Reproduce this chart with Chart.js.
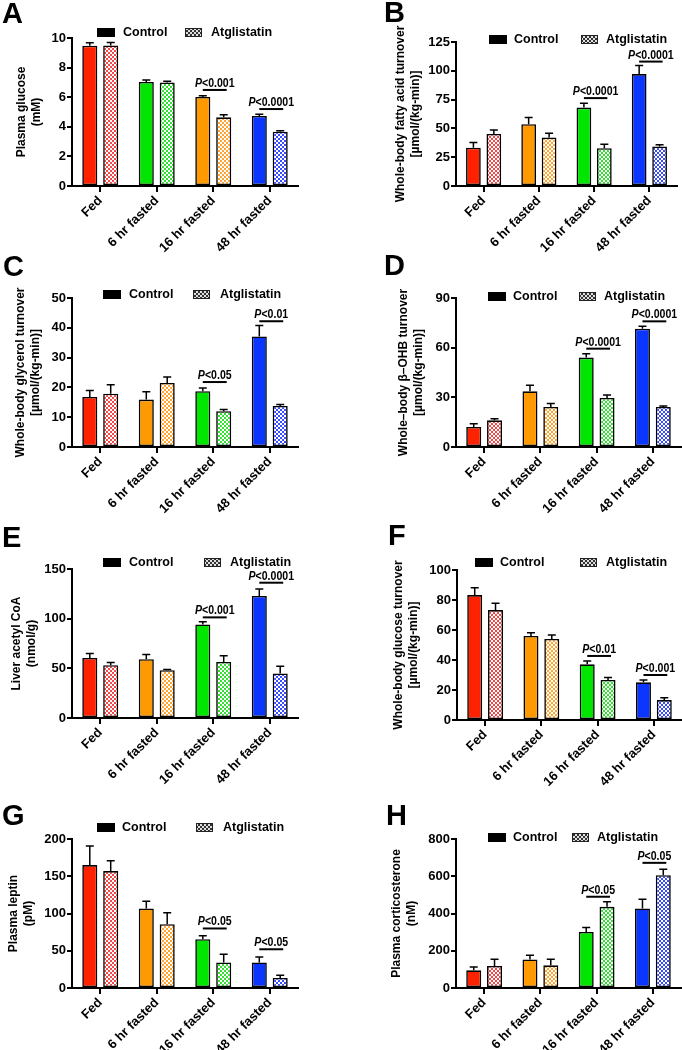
<!DOCTYPE html>
<html><head><meta charset="utf-8">
<script src="https://cdn.jsdelivr.net/npm/chart.js@4.4.1/dist/chart.umd.min.js"></script>
<style>
html,body{margin:0;padding:0;background:#fff;}
#wrap{position:relative;width:682px;height:1050px;overflow:hidden;background:#fff;}
#wrap canvas{position:absolute;}
</style></head><body><div id="wrap"></div>
<script>
// ---------- DATA ----------
const categories = ['Fed', '6 hr fasted', '16 hr fasted', '48 hr fasted'];
const seriesNames = ['Control', 'Atglistatin'];

// A: Plasma glucose (mM)
const glucoseControl = [9.48, 7.03, 6.02, 4.73];
const glucoseControlSem = [0.2, 0.13, 0.08, 0.12];
const glucoseAtg = [9.5, 7.0, 4.64, 3.67];
const glucoseAtgSem = [0.2, 0.07, 0.18, 0.07];
const glucoseTicks = [0, 2, 4, 6, 8, 10];
const glucoseStats = [{ group: 2, text: '<0.001', y: 6.49 }, { group: 3, text: '<0.0001', y: 5.2 }];

// B: Whole-body fatty acid turnover
const faControl = [33.3, 53.7, 68.1, 97.2];
const faControlSem = [4.4, 5.7, 3.8, 7.5];
const faAtg = [45.2, 42.0, 32.8, 34.2];
const faAtgSem = [3.5, 3.8, 3.5, 1.5];
const faTicks = [0, 25, 50, 75, 100, 125];
const faStats = [{ group: 2, text: '<0.0001', y: 76.3 }, { group: 3, text: '<0.0001', y: 108 }];

// C: Whole-body glycerol turnover
const glyControl = [16.8, 15.9, 18.7, 37.1];
const glyControlSem = [2.2, 2.6, 1.1, 3.7];
const glyAtg = [17.9, 21.5, 12.0, 13.8];
const glyAtgSem = [3.0, 2.0, 0.6, 0.5];
const glyTicks = [0, 10, 20, 30, 40, 50];
const glyStats = [{ group: 2, text: '<0.05', y: 21.8 }, { group: 3, text: '<0.01', y: 42.2 }];

// D: Whole-body beta-OHB turnover
const bohbControl = [12.1, 33.6, 54.0, 71.5];
const bohbControlSem = [2.0, 3.7, 2.4, 1.4];
const bohbAtg = [16.1, 24.2, 29.6, 24.2];
const bohbAtgSem = [1.0, 2.0, 1.8, 0.6];
const bohbTicks = [0, 30, 60, 90];
const bohbStats = [{ group: 2, text: '<0.0001', y: 59.4 }, { group: 3, text: '<0.0001', y: 75.9 }];

// E: Liver acetyl CoA
const acoaControl = [60.5, 59.2, 94.2, 122.8];
const acoaControlSem = [4.5, 4.8, 2.7, 7.1];
const acoaAtg = [53.2, 48.1, 56.5, 44.8];
const acoaAtgSem = [2.7, 0.7, 6.1, 7.4];
const acoaTicks = [0, 50, 100, 150];
const acoaStats = [{ group: 2, text: '<0.001', y: 101.3 }, { group: 3, text: '<0.0001', y: 136.2 }];

// F: Whole-body glucose turnover
const gtControl = [83.3, 56.0, 37.1, 25.1];
const gtControlSem = [4.9, 2.2, 2.2, 1.6];
const gtAtg = [73.3, 54.0, 26.7, 13.3];
const gtAtgSem = [4.5, 2.7, 1.7, 1.6];
const gtTicks = [0, 20, 40, 60, 80, 100];
const gtStats = [{ group: 2, text: '<0.01', y: 42.7 }, { group: 3, text: '<0.001', y: 30 }];

// G: Plasma leptin
const leptinControl = [165, 106.8, 65.5, 34.2];
const leptinControlSem = [25.6, 9.8, 4.5, 7.5];
const leptinAtg = [157, 85.7, 34.2, 13.5];
const leptinAtgSem = [13.8, 15.2, 11.1, 3.6];
const leptinTicks = [0, 50, 100, 150, 200];
const leptinStats = [{ group: 2, text: '<0.05', y: 79.9 }, { group: 3, text: '<0.05', y: 52 }];

// H: Plasma corticosterone
const cortControl = [95, 153, 301, 427];
const cortControlSem = [18, 23, 24, 50];
const cortAtg = [118, 122, 436, 606];
const cortAtgSem = [36, 32, 27, 32];
const cortTicks = [0, 200, 400, 600, 800];
const cortStats = [{ group: 2, text: '<0.05', y: 490 }, { group: 3, text: '<0.05', y: 672 }];

// ---------- STYLE ----------
const FONT = '"Liberation Sans", Arial, Helvetica, sans-serif';
const RED = '#ff2200', ORANGE = '#ff9900', GREEN = '#00e600', BLUE = '#0a36ff';
const LIGHT = { [RED]: '#f24848', [ORANGE]: '#ffa533', [GREEN]: '#33e033', [BLUE]: '#3a4cff' };
const colorsStd = [RED, ORANGE, GREEN, BLUE];
const colorsA = [RED, GREEN, ORANGE, BLUE];

const panels = [
  { letter: 'A', lx: 2, ly: 23, canvas: [0, 0, 341, 260], area: { left: 72, top: 38, bottom: 186, right: 298 },
    title: ['Plasma glucose', '(mM)'], titleX: 22, legend: { y: 28, c: 97, ct: 123, a: 185, at: 211 },
    colors: colorsA, control: glucoseControl, controlSem: glucoseControlSem, atg: glucoseAtg, atgSem: glucoseAtgSem, ticks: glucoseTicks, stats: glucoseStats },
  { letter: 'B', lx: 384, ly: 22, canvas: [341, 0, 341, 260], area: { left: 456, top: 42, bottom: 186, right: 677 },
    title: ['Whole-body fatty acid turnover', '[\u00B5mol/(kg-min)]'], titleX: 401, legend: { y: 35, c: 489, ct: 514, a: 581, at: 606 },
    colors: colorsStd, control: faControl, controlSem: faControlSem, atg: faAtg, atgSem: faAtgSem, ticks: faTicks, stats: faStats },
  { letter: 'C', lx: 3, ly: 276, canvas: [0, 245, 341, 275], area: { left: 72, top: 298, bottom: 447, right: 298 },
    title: ['Whole-body glycerol turnover', '[\u00B5mol/(kg-min)]'], titleX: 21, legend: { y: 290, c: 103, ct: 129, a: 193, at: 220 },
    colors: colorsStd, control: glyControl, controlSem: glyControlSem, atg: glyAtg, atgSem: glyAtgSem, ticks: glyTicks, stats: glyStats },
  { letter: 'D', lx: 384, ly: 275, canvas: [341, 245, 341, 275], area: { left: 456, top: 298, bottom: 447, right: 681 },
    title: ['Whole\u2013body \u03B2\u2013OHB turnover', '[\u00B5mol/(kg-min)]'], titleX: 404, legend: { y: 292, c: 488, ct: 513, a: 579, at: 604 },
    colors: colorsStd, control: bohbControl, controlSem: bohbControlSem, atg: bohbAtg, atgSem: bohbAtgSem, ticks: bohbTicks, stats: bohbStats },
  { letter: 'E', lx: 2, ly: 547, canvas: [0, 520, 341, 270], area: { left: 72, top: 569, bottom: 718, right: 298 },
    title: ['Liver acetyl CoA', '(nmol/g)'], titleX: 17, legend: { y: 558, c: 103, ct: 129, a: 204, at: 230 },
    colors: colorsStd, control: acoaControl, controlSem: acoaControlSem, atg: acoaAtg, atgSem: acoaAtgSem, ticks: acoaTicks, stats: acoaStats },
  { letter: 'F', lx: 388, ly: 545, canvas: [341, 520, 341, 270], area: { left: 457, top: 570, bottom: 720, right: 682 },
    title: ['Whole-body glucose turnover', '[\u00B5mol/(kg-min)]'], titleX: 399, legend: { y: 558, c: 475, ct: 500, a: 580, at: 606 },
    colors: colorsStd, control: gtControl, controlSem: gtControlSem, atg: gtAtg, atgSem: gtAtgSem, ticks: gtTicks, stats: gtStats },
  { letter: 'G', lx: 2, ly: 825, canvas: [0, 790, 341, 260], area: { left: 72, top: 839, bottom: 988, right: 298 },
    title: ['Plasma leptin', '(pM)'], titleX: 14, legend: { y: 823, c: 97, ct: 122, a: 196, at: 223 },
    colors: colorsStd, control: leptinControl, controlSem: leptinControlSem, atg: leptinAtg, atgSem: leptinAtgSem, ticks: leptinTicks, stats: leptinStats },
  { letter: 'H', lx: 386, ly: 825, canvas: [341, 790, 341, 260], area: { left: 456, top: 839, bottom: 988, right: 681 },
    title: ['Plasma corticosterone', '(nM)'], titleX: 397, legend: { y: 833, c: 488, ct: 513, a: 572, at: 597 },
    colors: colorsStd, control: cortControl, controlSem: cortControlSem, atg: cortAtg, atgSem: cortAtgSem, ticks: cortTicks, stats: cortStats }
];

function checker(ctx, fg, bg, cell) {
  const t = document.createElement('canvas');
  t.width = t.height = cell * 2;
  const x = t.getContext('2d');
  x.fillStyle = bg; x.fillRect(0, 0, cell * 2, cell * 2);
  x.fillStyle = fg; x.fillRect(0, 0, cell, cell); x.fillRect(cell, cell, cell, cell);
  return ctx.createPattern(t, 'repeat');
}

const panelPlugin = {
  id: 'panelDecor',
  afterDatasetsDraw(chart) {
    const p = chart.options.plugins.panelDecor;
    const ctx = chart.ctx;
    const ys = chart.scales.y;
    const [cx, cy] = p.canvas;
    ctx.save();
    // error bars (mean + SEM)
    ctx.strokeStyle = '#000'; ctx.lineWidth = 1.5;
    chart.data.datasets.forEach((ds, di) => {
      const meta = chart.getDatasetMeta(di);
      meta.data.forEach((bar, i) => {
        const top = ys.getPixelForValue(ds.data[i] + ds.sem[i]);
        ctx.beginPath();
        ctx.moveTo(bar.x, bar.y); ctx.lineTo(bar.x, top);
        ctx.moveTo(bar.x - 4, top); ctx.lineTo(bar.x + 4, top);
        ctx.stroke();
      });
    });
    // significance
    const m0 = chart.getDatasetMeta(0), m1 = chart.getDatasetMeta(1);
    p.stats.forEach(s => {
      const y = ys.getPixelForValue(s.y);
      const x1 = m0.data[s.group].x, x2 = m1.data[s.group].x + 3;
      ctx.lineWidth = 2;
      ctx.beginPath(); ctx.moveTo(x1, y); ctx.lineTo(x2, y); ctx.stroke();
      const mid = (x1 + x2) / 2;
      const sq = 0.88;
      ctx.font = 'italic bold 12px ' + FONT;
      const wP = ctx.measureText('P').width;
      ctx.font = 'bold 12px ' + FONT;
      const wR = ctx.measureText(s.text).width;
      const tot = (wP + wR) * sq;
      ctx.save();
      ctx.translate(mid - tot / 2, y - 3);
      ctx.scale(sq, 1);
      ctx.fillStyle = '#000'; ctx.textBaseline = 'alphabetic'; ctx.textAlign = 'left';
      ctx.font = 'italic bold 12px ' + FONT;
      ctx.fillText('P', 0, 0);
      ctx.font = 'bold 12px ' + FONT;
      ctx.fillText(s.text, wP, 0);
      ctx.restore();
    });
    // legend
    const L = p.legend;
    const by = L.y - cy;
    ctx.fillStyle = '#000';
    ctx.fillRect(L.c - cx, by, 18, 9);
    ctx.fillStyle = checker(ctx, '#333', '#e0e0e0', 2);
    ctx.fillRect(L.a - cx, by, 17, 9);
    ctx.lineWidth = 1; ctx.strokeStyle = '#222';
    ctx.strokeRect(L.a - cx + 0.5, by + 0.5, 16, 8);
    ctx.fillStyle = '#000';
    ctx.font = 'bold 12.5px ' + FONT;
    ctx.textBaseline = 'middle'; ctx.textAlign = 'left';
    ctx.fillText(seriesNames[0], L.ct - cx, by + 5);
    ctx.fillText(seriesNames[1], L.at - cx, by + 5);
    // panel letter
    ctx.font = 'bold 29px ' + FONT;
    ctx.textBaseline = 'alphabetic';
    ctx.fillText(p.letter, p.lx - cx, p.ly - cy);
    ctx.restore();
  }
};

const wrap = document.getElementById('wrap');

function makePanel(p) {
  const [cx, cy, cw, ch] = p.canvas;
  const cv = document.createElement('canvas');
  cv.width = cw; cv.height = ch;
  cv.style.left = cx + 'px'; cv.style.top = cy + 'px';
  cv.style.width = cw + 'px'; cv.style.height = ch + 'px';
  wrap.appendChild(cv);
  const ctx = cv.getContext('2d');
  const a = p.area;
  const yW = a.left - cx;
  const xH = cy + ch - a.bottom;
  const padTop = a.top - cy;
  const padRight = cx + cw - a.right;
  const tickFont = { family: FONT, size: 13, weight: 'bold' };
  new Chart(ctx, {
    type: 'bar',
    data: {
      labels: categories,
      datasets: [
        { label: seriesNames[0], data: p.control, sem: p.controlSem, backgroundColor: p.colors,
          borderColor: '#000', borderWidth: 1.6, borderSkipped: false, categoryPercentage: 0.74, barPercentage: 0.72 },
        { label: seriesNames[1], data: p.atg, sem: p.atgSem,
          backgroundColor: p.colors.map(c => checker(ctx, LIGHT[c], '#ffffff', 2)),
          borderColor: '#000', borderWidth: 1.6, borderSkipped: false, categoryPercentage: 0.74, barPercentage: 0.72 }
      ]
    },
    options: {
      responsive: false, animation: false, devicePixelRatio: 1,
      layout: { padding: { top: padTop, right: padRight, left: 0, bottom: 0 } },
      plugins: { legend: { display: false }, tooltip: { enabled: false }, panelDecor: p },
      scales: {
        x: {
          type: 'category', offset: true,
          grid: { display: true, drawOnChartArea: false, offset: false, tickLength: 6, lineWidth: 2, color: '#000' },
          border: { display: true, width: 2, color: '#000' },
          ticks: { minRotation: 45, maxRotation: 45, autoSkip: false, padding: 1, color: '#000', font: tickFont },
          afterFit: s => { s.height = xH; }
        },
        y: {
          min: 0, max: p.ticks[p.ticks.length - 1],
          afterBuildTicks: s => { s.ticks = p.ticks.map(v => ({ value: v })); },
          grid: { display: true, drawOnChartArea: false, tickLength: 5, lineWidth: 2, color: '#000' },
          border: { display: true, width: 2, color: '#000' },
          ticks: { padding: 1, color: '#000', font: tickFont },
          title: { display: true, text: p.title, color: '#000',
            font: { family: FONT, size: 12, weight: 'bold', lineHeight: 1.25 },
            padding: { top: p.titleX - cx - 7.5, bottom: 0 } },
          afterFit: s => { s.width = yW; }
        }
      }
    },
    plugins: [panelPlugin]
  });
}

panels.forEach(makePanel);
</script>
</body></html>
